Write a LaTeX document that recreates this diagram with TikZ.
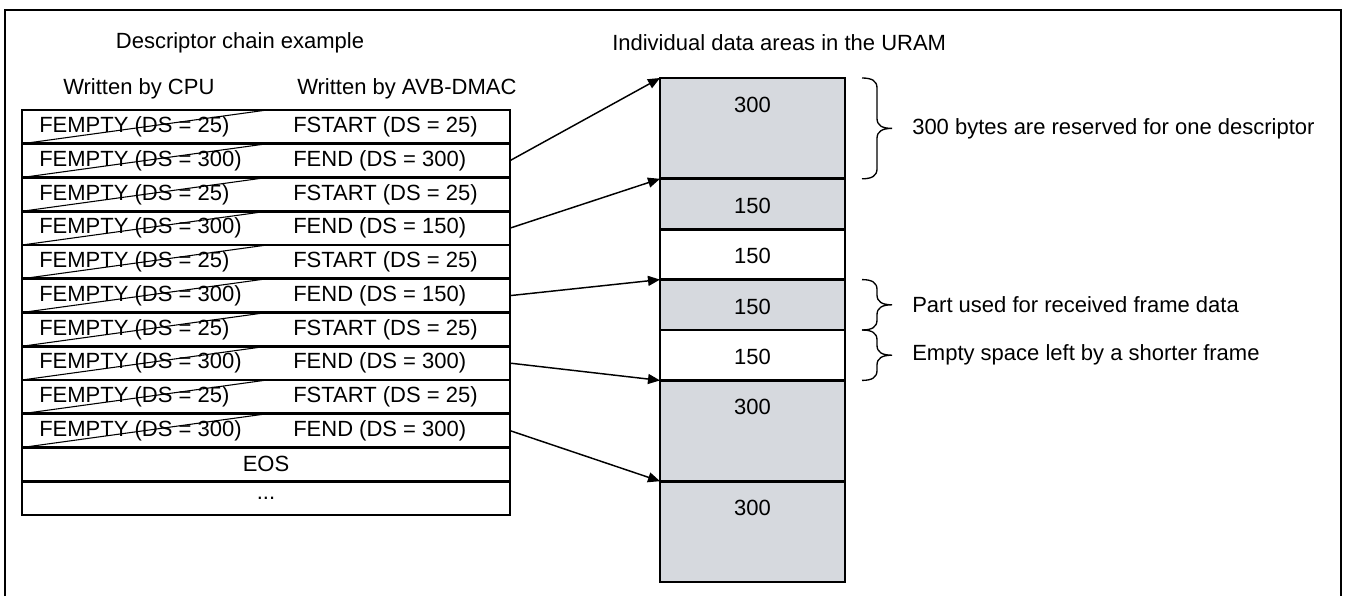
\documentclass[tikz,border=0pt]{standalone}
\usepackage{fontspec}
\setmainfont{Liberation Sans}
\usepackage{xcolor}
\usepackage{tikz}
\usetikzlibrary{arrows.meta}
\definecolor{memGray}{RGB}{214, 217, 222}

\tikzset{
  rowbox/.style={draw, line width=2pt, minimum width=366pt, minimum height=25.3125pt, inner sep=0pt, outer sep=0pt},
  strike/.style={line width=0.8pt},
  cell/.style={anchor=west, inner sep=0pt},
  memblock/.style={draw, line width=2pt, minimum width=138.75pt, inner sep=0pt, outer sep=0pt},
  memlabel/.style={inner sep=0pt},
  ptr/.style={line width=1.1pt, -{Triangle[length=9pt, width=7.5pt]}},
  bracestroke/.style={line width=1pt},
  note/.style={anchor=west, inner sep=0pt}
}

\newcommand{\uramBrace}[3]{%
  \draw[bracestroke] (#1,#2) .. controls ({#1+10},{#2}) and ({#1+15},{#2+3}) .. ({#1+15},{#2+10})
    -- ({#1+15},{(#2+#3)/2-10})
    .. controls ({#1+15},{(#2+#3)/2-3}) and ({#1+20},{(#2+#3)/2}) .. ({#1+30},{(#2+#3)/2})
    .. controls ({#1+20},{(#2+#3)/2}) and ({#1+15},{(#2+#3)/2+3}) .. ({#1+15},{(#2+#3)/2+10})
    -- ({#1+15},{#3-10})
    .. controls ({#1+15},{#3-3}) and ({#1+10},{#3}) .. (#1,#3);
}

\begin{document}
\begin{tikzpicture}[x=0.75pt, y=-0.75pt, font=\fontsize{16.5}{19.5}\selectfont]
    \useasboundingbox (0,0) rectangle (1345,596);
    \draw[line width=1.5pt] (5,596) |- (1341,10) -- (1341,596);

    \node (chainTitle) at (240,43) {Descriptor chain example};
    \node[cell] (cpuTitle) at (63,89) {Written by CPU};
    \node[cell] (dmacTitle) at (297,89) {Written by AVB-DMAC};
    \node[cell] (uramTitle) at (612,43) {Individual data areas in the URAM};

    \foreach \cpu/\dmac [count=\i from 0] in {25/FSTART (DS = 25), 300/FEND (DS = 300), 25/FSTART (DS = 25), 300/FEND (DS = 150), 25/FSTART (DS = 25), 300/FEND (DS = 150), 25/FSTART (DS = 25), 300/FEND (DS = 300), 25/FSTART (DS = 25), 300/FEND (DS = 300)} {
        \node[rowbox] (r\i) at (266, {126.875+33.75*\i}) {};
        \draw[strike] (r\i.south west) -- ([xshift=183.75pt]r\i.north west);
        \node[cell] (cpu\i) at (39, {126.875+33.75*\i}) {FEMPTY (DS = \cpu)};
        \node[cell] (dmac\i) at (293, {126.875+33.75*\i}) {\dmac};
    }
    \node[rowbox] (r10) at (266, {126.875+33.75*10}) {EOS};
    \node[rowbox] (r11) at (266, {126.875+33.75*11}) {...};

    \foreach \top/\h/\shade/\val [count=\j from 0] in {78/100.8/memGray/300, 178.8/50.4/memGray/150, 229.2/50.4/white/150, 279.6/50.4/memGray/150, 330/50.4/white/150, 380.4/100.8/memGray/300, 481.2/100.8/memGray/300} {
        \node[memblock, fill=\shade, minimum height=\h*0.75pt] (m\j) at (752.5, {\top+\h/2}) {};
        \node[memlabel] (v\j) at (752.5, {\top+27}) {\val};
    }

    \foreach \r/\m in {1/0, 3/1, 5/3, 7/5, 9/6}
        \draw[ptr] (r\r.east) -- (m\m.north west);

    \uramBrace{862}{78}{178.8}
    \uramBrace{862}{279.6}{330}
    \uramBrace{862}{330}{380.4}

    \node[note] (reserved) at (912,128.4) {300 bytes are reserved for one descriptor};
    \node[note] (used) at (912,304.8) {Part used for received frame data};
    \node[note] (empty) at (912,355.2) {Empty space left by a shorter frame};
\end{tikzpicture}
\end{document}
